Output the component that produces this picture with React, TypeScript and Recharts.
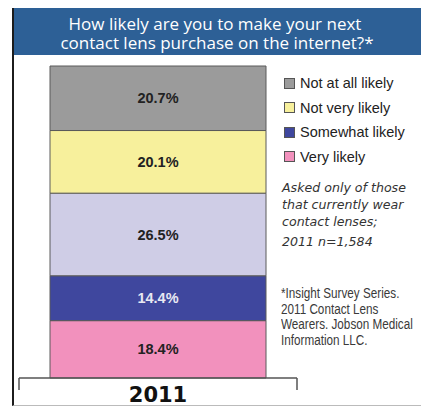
import { BarChart, Bar, XAxis, YAxis, Legend, LabelList } from "recharts"

// single survey year, stacked shares (%)
const YEARS = ["2011"]
const VERY_LIKELY = [18.4]
const SOMEWHAT_LIKELY = [14.4]
const DONT_KNOW = [26.5]
const NOT_VERY_LIKELY = [20.1]
const NOT_AT_ALL_LIKELY = [20.7]

const SERIES_NAMES = {
  veryLikely: "Very likely",
  somewhatLikely: "Somewhat likely",
  dontKnow: "Don't know",
  notVeryLikely: "Not very likely",
  notAtAllLikely: "Not at all likely",
}

const LEGEND_ORDER = [
  "Not at all likely",
  "Not very likely",
  "Somewhat likely",
  "Very likely",
]

const COLORS = {
  veryLikely: "#f291bd",
  somewhatLikely: "#3f479e",
  dontKnow: "#cfcde6",
  notVeryLikely: "#f7f09c",
  notAtAllLikely: "#9b9b9b",
}

const data = YEARS.map((year, i) => ({
  year,
  veryLikely: VERY_LIKELY[i],
  somewhatLikely: SOMEWHAT_LIKELY[i],
  dontKnow: DONT_KNOW[i],
  notVeryLikely: NOT_VERY_LIKELY[i],
  notAtAllLikely: NOT_AT_ALL_LIKELY[i],
}))

const labelFont = {
  fontFamily: '"Liberation Sans", Arial, sans-serif',
  fontSize: 14.5,
  fontWeight: 700,
}

function YearTick(props: any) {
  const { x, y, payload } = props
  const half = payload?.offset ?? 139
  return (
    <g>
      <line x1={x - half} x2={x - half} y1={y} y2={y + 12} stroke="#555" strokeWidth={1.5} />
      <line x1={x + half} x2={x + half} y1={y} y2={y + 12} stroke="#555" strokeWidth={1.5} />
      <text
        x={x}
        y={y + 24}
        textAnchor="middle"
        fill="#111"
        style={{ fontFamily: '"DejaVu Sans", Verdana, sans-serif', fontSize: 21, fontWeight: 700 }}
      >
        {payload.value}
      </text>
    </g>
  )
}

function LegendBox({ payload }: any) {
  const items = [...(payload ?? [])]
    .filter((p: any) => LEGEND_ORDER.includes(p.value))
    .sort((a: any, b: any) => LEGEND_ORDER.indexOf(a.value) - LEGEND_ORDER.indexOf(b.value))
  return (
    <div>
      {items.map((p: any) => (
        <div
          key={p.value}
          style={{
            display: "flex",
            alignItems: "center",
            height: 24.5,
            fontFamily: '"Liberation Sans", Arial, sans-serif',
            fontSize: 14.5,
            color: "#222",
          }}
        >
          <span
            style={{
              display: "inline-block",
              width: 9,
              height: 9,
              background: p.color,
              border: "1px solid #555",
              marginRight: 5,
            }}
          />
          {p.value}
        </div>
      ))}
    </div>
  )
}

export default function App() {
  return (
    <div style={{ position: "relative", width: 429, height: 407, margin: "-8px 0 0 -8px", background: "#fff" }}>
      <div
        style={{
          position: "absolute",
          left: 12,
          top: 5,
          width: 414,
          height: 398,
          borderLeft: "2px solid #1c1c1c",
          borderTop: "2px solid #222",
          borderRight: "2px solid #444",
          borderBottom: "1px solid #bbb",
        }}
      />
      <div
        style={{
          position: "absolute",
          left: 14,
          top: 7,
          width: 412,
          height: 48,
          background: "#2d6096",
          color: "#fff",
          textAlign: "center",
          fontFamily: '"Open Sans", "DejaVu Sans", sans-serif',
          fontSize: 17,
          lineHeight: "19px",
          paddingTop: 7,
          boxSizing: "border-box",
        }}
      >
        <div style={{ marginLeft: -10 }}>How likely are you to make your next</div>
        <div style={{ marginLeft: -6 }}>contact lens purchase on the internet?*</div>
      </div>

      <div style={{ position: "absolute", left: 0, top: 0 }}>
        <BarChart
          width={429}
          height={407}
          data={data}
          margin={{ top: 66, right: 132, left: 19, bottom: 0 }}
          barCategoryGap={31}
        >
          <XAxis
            dataKey="year"
            height={29}
            axisLine={{ stroke: "#555", strokeWidth: 1.5 }}
            tickLine={false}
            tickSize={0}
            tickMargin={0}
            tick={<YearTick />}
            interval={0}
          />
          <YAxis hide domain={[0, "dataMax"]} />
          <Legend
            layout="vertical"
            align="center"
            verticalAlign="middle"
            content={<LegendBox />}
            wrapperStyle={{ left: 284, top: 71, width: 140 }}
          />
          {(Object.keys(SERIES_NAMES) as (keyof typeof SERIES_NAMES)[]).map((key) => (
            <Bar
              key={key}
              dataKey={key}
              name={SERIES_NAMES[key]}
              stackId="a"
              fill={COLORS[key]}
              stroke="#5a5a5a"
              strokeWidth={1}
              legendType={key === "dontKnow" ? "none" : "square"}
              isAnimationActive={false}
            >
              <LabelList
                dataKey={key}
                position="center"
                formatter={(v: any) => `${v}%`}
                fill={key === "somewhatLikely" ? "#e8e8f2" : "#222"}
                style={labelFont}
              />
            </Bar>
          ))}
        </BarChart>
      </div>

      <div
        style={{
          position: "absolute",
          left: 282,
          top: 179,
          fontFamily: '"DejaVu Sans", Verdana, sans-serif',
          fontStyle: "italic",
          fontSize: 12.6,
          lineHeight: "17px",
          color: "#333",
        }}
      >
        <div>Asked only of those</div>
        <div>that currently wear</div>
        <div>contact lenses;</div>
        <div style={{ marginTop: 3 }}>2011 n=1,584</div>
      </div>

      <div
        style={{
          position: "absolute",
          left: 281,
          top: 285,
          fontFamily: '"Liberation Sans", Arial, sans-serif',
          fontSize: 15.5,
          lineHeight: "15.5px",
          color: "#3a3a3a",
          whiteSpace: "nowrap",
          transform: "scaleX(0.755)",
          transformOrigin: "left top",
        }}
      >
        <div>*Insight Survey Series.</div>
        <div>2011 Contact Lens</div>
        <div>Wearers. Jobson Medical</div>
        <div>Information LLC.</div>
      </div>
    </div>
  )
}
